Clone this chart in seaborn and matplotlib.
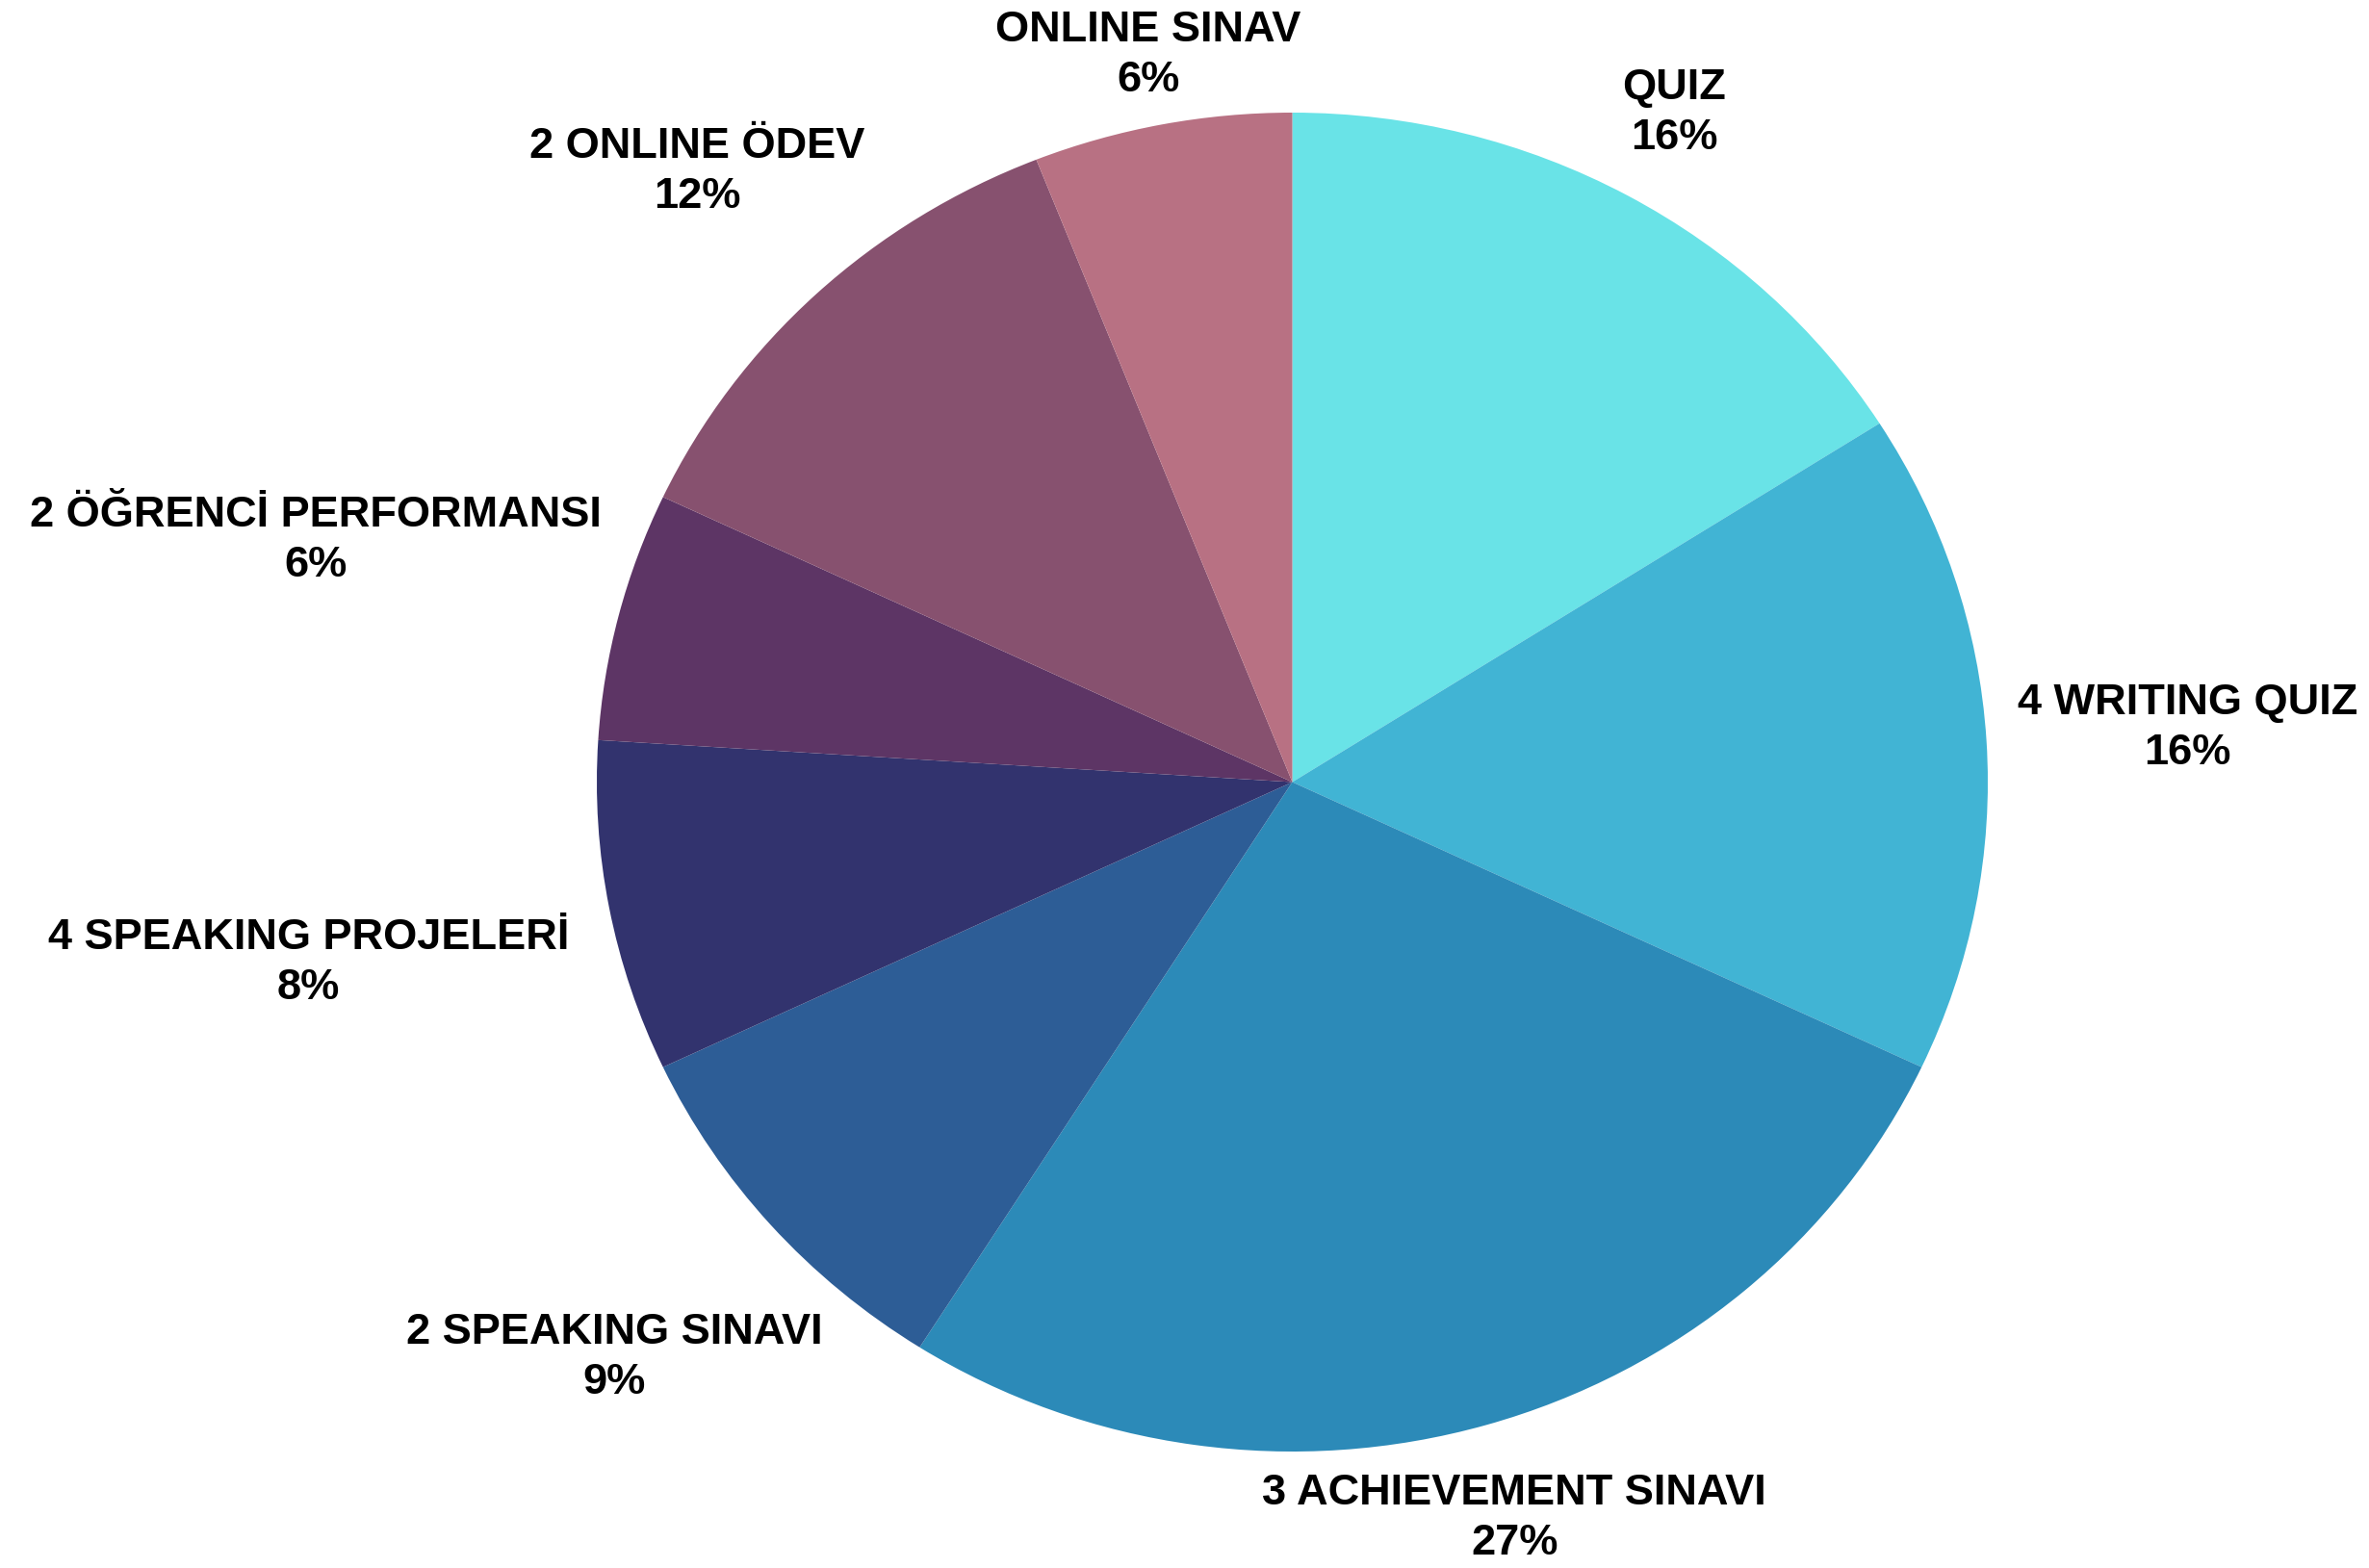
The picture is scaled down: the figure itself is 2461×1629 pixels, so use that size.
import numpy as np
import matplotlib
matplotlib.use("Agg")
import matplotlib.pyplot as plt
import seaborn as sns

# ------------------------------------------------------------
# Data
# ------------------------------------------------------------
categories = [
    "QUIZ",
    "4 WRITING QUIZ",
    "3 ACHIEVEMENT SINAVI",
    "2 SPEAKING SINAVI",
    "4 SPEAKING PROJELERİ",
    "2 ÖĞRENCİ PERFORMANSI",
    "2 ONLINE ÖDEV",
    "ONLINE SINAV",
]
shares = [16, 16, 27, 9, 8, 6, 12, 6]
slice_colors = [
    "#69E3E7", "#41B4D4", "#2C8AB8", "#2D5D96",
    "#32336E", "#5D3565", "#87516F", "#B87183",
]

# label distance from centre (in pie radii), one per slice
label_dist = [1.14, 1.29, 1.145, 1.30, 1.44, 1.45, 1.25, 1.105]

# ------------------------------------------------------------
# Figure
# ------------------------------------------------------------
sns.set_theme(style="white")
plt.rcParams["font.family"] = ["Liberation Sans", "DejaVu Sans"]

W, H = 2461, 1629
fig = plt.figure(figsize=(W / 100, H / 100), dpi=100)
ax = fig.add_axes([0, 0, 1, 1])

palette = sns.color_palette(slice_colors)
wedges, _ = ax.pie(
    shares,
    colors=palette,
    startangle=90,
    counterclock=False,
    wedgeprops=dict(linewidth=0),
)

# pie is drawn slightly wider than tall in the reference
cx, cy = 1342.5, 812.5      # centre in pixels (from top-left)
rx, ry = 722.5, 695.5       # radii in pixels
ax.set_aspect("auto")
ax.set_xlim(-cx / rx, (W - cx) / rx)
ax.set_ylim(-(H - cy) / ry, cy / ry)
ax.axis("off")

total = sum(shares)
for w, name, val, d in zip(wedges, categories, shares, label_dist):
    mid = np.deg2rad((w.theta1 + w.theta2) / 2)
    x, y = d * np.cos(mid), d * np.sin(mid)
    ax.text(x, y, f"{name}\n{round(100 * val / total)}%",
            ha="center", va="center", fontsize=32.5, fontweight="bold",
            color="black", linespacing=1.35)

fig.savefig("out.png", dpi=100, facecolor="white")
